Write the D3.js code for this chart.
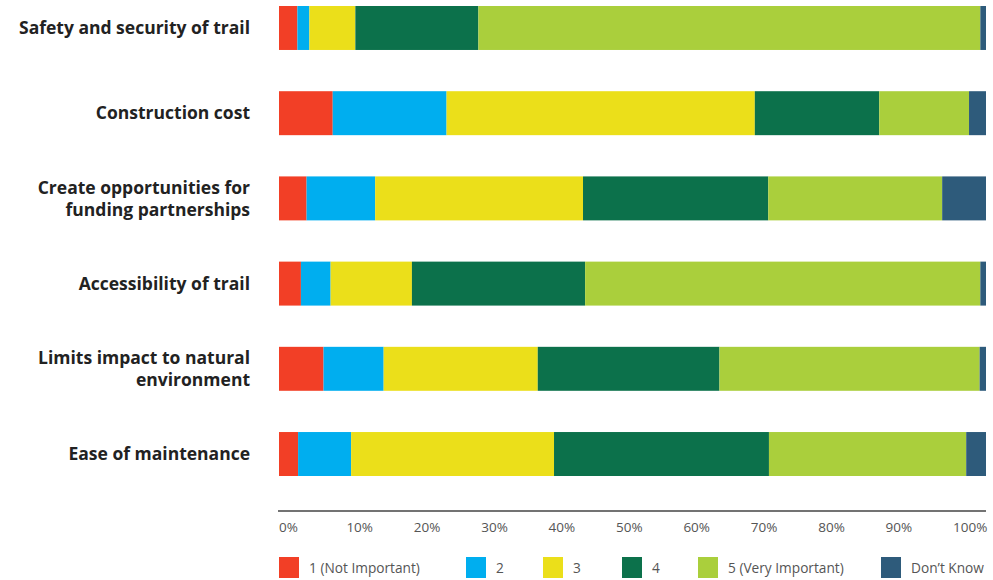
<!DOCTYPE html>
<html>
<head>
<meta charset="utf-8">
<script src="https://cdn.jsdelivr.net/npm/d3@7"></script>
<style>
  body { margin: 0; background: #fff; }
  svg { display: block; font-family: "Open Sans", "Noto Sans", sans-serif; }
</style>
</head>
<body>
<div id="chart"></div>
<script>
// categories (each label line split on |)
var categories = [
    "Safety and security of trail",
    "Construction cost",
    "Create opportunities for|funding partnerships",
    "Accessibility of trail",
    "Limits impact to natural|environment",
    "Ease of maintenance"
];

var seriesNames = ["1 (Not Important)", "2", "3", "4", "5 (Very Important)", "Don\u2019t Know"];
var seriesColors = ["#f23f26", "#00aeef", "#ebdf1a", "#0c714b", "#aacf3c", "#2e5b7b"];

// percent of responses, one array per category, in series order
var safety        = [2.6, 1.7, 6.5, 17.4, 71.0, 0.8];
var construction  = [7.6, 16.1, 43.6, 17.6, 12.7, 2.4];
var funding       = [3.9, 9.7, 29.4, 26.2, 24.6, 6.2];
var accessibility = [3.1, 4.2, 11.5, 24.5, 55.9, 0.8];
var limits        = [6.3, 8.5, 21.8, 25.7, 36.8, 0.9];
var maintenance   = [2.7, 7.5, 28.7, 30.4, 27.9, 2.8];

var tickValues = [0, 10, 20, 30, 40, 50, 60, 70, 80, 90, 100];

var rows = [safety, construction, funding, accessibility, limits, maintenance];

var width = 993, height = 580;
var svg = d3.select("#chart").append("svg")
    .attr("width", width).attr("height", height);

var x = d3.scaleLinear().domain([0, 100]).range([279, 986]);
var y = d3.scaleBand().domain(d3.range(categories.length))
    .range([6, 476]).paddingInner(0.484).paddingOuter(0);

// build stacked table
var table = rows.map(function(r, i) {
    var o = { idx: i };
    seriesNames.forEach(function(s, j) { o[s] = r[j]; });
    return o;
});
var stack = d3.stack().keys(seriesNames)(table);

svg.append("g").selectAll("g")
    .data(stack)
    .enter().append("g")
    .attr("fill", function(d, i) { return seriesColors[i]; })
    .selectAll("rect")
    .data(function(d) { return d; })
    .enter().append("rect")
    .attr("x", function(d) { return x(d[0]); })
    .attr("width", function(d) { return x(d[1]) - x(d[0]); })
    .attr("y", function(d) { return y(d.data.idx); })
    .attr("height", y.bandwidth());

// category labels
var lab = svg.append("g").selectAll("text")
    .data(categories)
    .enter().append("text")
    .attr("text-anchor", "end")
    .attr("font-weight", "bold")
    .attr("font-size", "17.5px")
    .attr("fill", "#222");
lab.each(function(d, i) {
    var lines = d.split("|");
    var cy = y(i) + y.bandwidth() / 2;
    var t = d3.select(this);
    lines.forEach(function(line, k) {
        t.append("tspan")
            .attr("x", 250)
            .attr("y", cy + (k - (lines.length - 1) / 2) * 22)
            .attr("dy", "0.35em")
            .text(line);
    });
});

// axis line
svg.append("line")
    .attr("x1", x(0) - 1).attr("x2", x(100))
    .attr("y1", 511).attr("y2", 511)
    .attr("stroke", "#444").attr("stroke-width", 1.5);

// tick labels (original spaces them a little tighter than the bars)
var tickX = d3.scaleLinear().domain([0, 100]).range([279, 953]);
svg.append("g").selectAll("text")
    .data(tickValues)
    .enter().append("text")
    .attr("x", function(d) { return tickX(d); })
    .attr("y", 527)
    .attr("dy", "0.35em")
    .attr("font-size", "13.5px")
    .attr("fill", "#555")
    .text(function(d) { return d + "%"; });

// legend
var legendX = [279, 466, 543, 622, 698, 881];
var leg = svg.append("g").selectAll("g")
    .data(seriesNames)
    .enter().append("g")
    .attr("transform", function(d, i) { return "translate(" + legendX[i] + ",557)"; });
leg.append("rect")
    .attr("width", 20).attr("height", 21)
    .attr("fill", function(d, i) { return seriesColors[i]; });
leg.append("text")
    .attr("x", 30).attr("y", 11)
    .attr("dy", "0.35em")
    .attr("font-size", "13.7px")
    .attr("fill", "#555")
    .text(function(d) { return d; });
</script>
</body>
</html>
